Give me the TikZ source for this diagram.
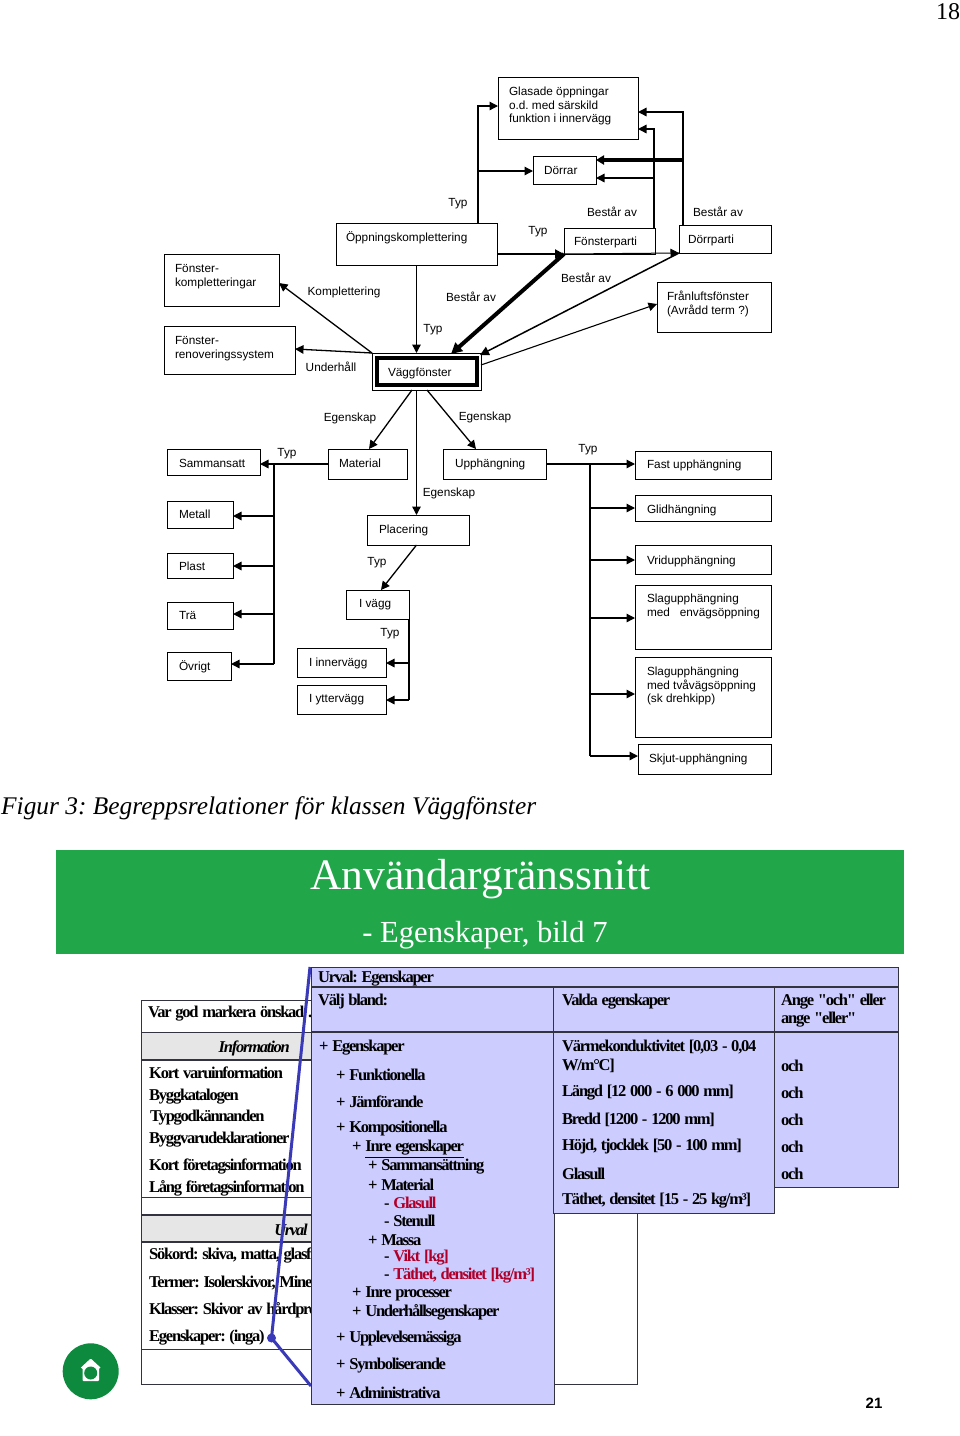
\documentclass[tikz,border=0pt]{standalone}
\usepackage{fontspec}
\setmainfont{Liberation Sans}
\newfontfamily\serf{Liberation Serif}
\newfontfamily\lowf[LetterSpace=-7.5,WordSpace=1.3]{Liberation Serif}
\usetikzlibrary{arrows.meta,calc}
\definecolor{panelblue}{HTML}{CCCCFF}
\definecolor{panelline}{HTML}{33333F}
\definecolor{bandgreen}{HTML}{22A64A}
\definecolor{homegreen}{HTML}{0E8A3E}
\definecolor{linkblue}{HTML}{3A3AB8}
\definecolor{redtxt}{HTML}{B0002A}
\definecolor{greyband}{HTML}{E6E6E6}
\newcounter{tn}
\newlength\bxw \newlength\bxh \newlength\bxt \newlength\bxi
\newcommand\bx[8][]{% [opts] name x0 y0 x1 y1 xtext cy text
  \setlength\bxw{\dimexpr#5pt-#3pt\relax}%
  \setlength\bxh{\dimexpr#6pt-#4pt\relax}%
  \setlength\bxi{\dimexpr#7pt-#3pt\relax}%
  \pgfmathsetlength\bxt{#8-#4-5.1}%
  \BXnext{#1}{#2}{#3}{#4}%
}
\newcommand\BXnext[5]{%
  \node[bxs,#1,anchor=north west] (#2) at (#3,#4) {\parbox[b][\bxh][t]{\bxw}{\vspace*{\bxt}\hspace*{\bxi}\parbox[t]{\dimexpr\bxw-\bxi\relax}{\raggedright\strut #5\strut}}};%
}
\newcommand\lab[3]{\stepcounter{tn}\node[labs,name=lab\thetn] at (#1,#2) {#3};}
\newcommand\lw[4][black]{\stepcounter{tn}\node[lows,text=#1,name=low\thetn] at (#2,#3) {#4};}
\tikzset{
  x=1pt,y=-1pt,
  bxs/.style={draw=black,line width=1pt,inner sep=0pt,outer sep=0pt,fill=white,font=\fontsize{11.8}{13.7}\selectfont},
  labs/.style={inner sep=0pt,yshift=-1pt,font=\fontsize{11.8}{13.7}\selectfont},
  arr/.style={line width=1.3pt,-{Triangle[width=8.5pt,length=8.5pt]}},
  lin/.style={line width=1.3pt},
  lows/.style={anchor=west,inner sep=0pt,yshift=-1pt,font=\fontsize{16.5}{18}\lowf\bfseries\selectfont},
  panel/.style={draw=panelline,line width=1pt,fill=panelblue},
  tbl/.style={draw=panelline,line width=1pt},
}
\begin{document}
\frenchspacing
\begin{tikzpicture}
\useasboundingbox (0,0) rectangle (960,1436);
\fill[white] (0,0) rectangle (960,1436);
\stepcounter{tn}\node[inner sep=0pt,font=\fontsize{24}{26}\serf\selectfont,name=pageno] at (948,12) {18};

% upper diagram: boxes
\bx{glas}{498}{77}{638}{139}{509}{91}{Glasade öppningar\\o.d. med särskild\\funktion i innervägg}
\bx{dorrar}{533}{156}{596}{184}{544}{170}{Dörrar}
\bx{opp}{336}{223}{497}{265}{346}{237}{Öppningskomplettering}
\bx{fparti}{564}{228}{655}{254}{574}{241}{Fönsterparti}
\bx{dparti}{679}{225}{771}{253}{688}{239}{Dörrparti}
\bx{fkompl}{164}{254}{279}{306}{175}{268}{Fönster-\\kompletteringar}
\bx{frenov}{164}{326}{295}{374}{175}{340}{Fönster-\\renoveringssystem}
\bx{fran}{657}{282}{771}{332}{667}{296}{Frånluftsfönster\\(Avrådd term ?)}
\stepcounter{tn}\node[bxs,anchor=north west,minimum width=109pt,minimum height=37pt] (vaggo) at (372,353) {};
\bx[line width=4pt]{vagg}{376.5}{358}{476.5}{385}{388}{372}{Väggfönster}

\bx{samm}{167}{449}{260}{475}{179}{463}{Sammansatt}
\bx{mat}{328}{449}{407}{479}{339}{463}{Material}
\bx{upp}{443}{449}{546}{479}{455}{463}{Upphängning}
\bx{fast}{635}{451}{771}{479}{647}{464}{Fast upphängning}
\bx{glid}{635}{495}{771}{521}{647}{509}{Glidhängning}
\bx{vrid}{635}{545}{771}{574}{647}{560}{Vridupphängning}
\bx{slag1}{635}{585}{771}{649}{647}{598}{Slagupphängning\\med\ \ \ envägsöppning}
\bx{slag2}{635}{657}{771}{737}{647}{671}{Slagupphängning\\med tvåvägsöppning\\(sk drehkipp)}
\bx{skjut}{638}{744}{771}{774}{649}{758}{Skjut-upphängning}
\bx{metall}{167}{501}{233}{528}{179}{514}{Metall}
\bx{plast}{167}{553}{233}{578}{179}{566}{Plast}
\bx{tra}{167}{602}{233}{629}{179}{615}{Trä}
\bx{ovrigt}{167}{652}{231}{680}{179}{666}{Övrigt}
\bx{plac}{367}{515}{469}{545}{379}{529}{Placering}
\bx{ivagg}{346}{590}{409}{619}{359}{603}{I vägg}
\bx{inner}{297}{648}{386}{677}{309}{662}{I innervägg}
\bx{ytter}{297}{685}{386}{714}{309}{698}{I yttervägg}

% routing points
\coordinate (a1) at (478,106);
\coordinate (a2) at (478,171);
\coordinate (b1) at (654,129);
\coordinate (b2) at (654,178);
\coordinate (c1) at (683,112);
\coordinate (c2) at (683,160);
\coordinate (d1) at (564,254);
\coordinate (d2) at (679,253);
\coordinate (k1) at (279,283);
\coordinate (u1) at (295,349);
\coordinate (f1) at (655,304);
\coordinate (f2) at (481,365);
\coordinate (v1) at (451,354);
\coordinate (v2) at (480,355);
\coordinate (m1) at (412,390);
\coordinate (m2) at (369,449);
\coordinate (h1) at (427,390);
\coordinate (h2) at (476,449);
\coordinate (p1) at (381,590);
\coordinate (s0) at (274,464);
\coordinate (s1) at (274,516);
\coordinate (s2) at (274,566);
\coordinate (s3) at (274,614);
\coordinate (s4) at (274,664);
\coordinate (i0) at (409,619);
\coordinate (i1) at (409,663);
\coordinate (i2) at (409,700);
\coordinate (r0) at (590,464);
\coordinate (r1) at (590,508);
\coordinate (r2) at (590,560);
\coordinate (r3) at (590,618);
\coordinate (r4) at (590,694);
\coordinate (r5) at (590,756);

% connectors
\draw[arr] (opp.north -| a1) -- (a1) -- (a1 -| glas.west);
\draw[arr] (a2) -- (a2 -| dorrar.west);
\draw[arr] (fparti.north -| b1) -- (b1) -- (b1 -| glas.east);
\draw[arr] (b2) -- (b2 -| dorrar.east);
\draw[arr] (dparti.north -| c1) -- (c1) -- (c1 -| glas.east);
\draw[line width=3.5pt,-{Triangle[width=9pt,length=8pt]}] (c2) -- (c2 -| dorrar.east);
\draw[line width=2pt,-{Triangle[width=9pt,length=9pt]}] (opp.east |- d1) -- (d1);
\draw[arr,line width=1pt] (d1) -- (d2);
\draw[arr] (opp.south) -- (vaggo.north -| opp.south);
\draw[line width=4pt,-{Triangle[width=11pt,length=11pt]}] (d1) -- (v1);
\draw[line width=1.5pt,-{Triangle[width=9pt,length=9pt]}] (d2) -- (v2);
\draw[arr,line width=1.1pt] (f2) -- (f1 -| fran.west);
\draw[arr] (vaggo.north west) -- (k1);
\draw[arr] (vaggo.north west) -- (u1);
\draw[arr] (m1) -- (m2);
\draw[arr] (h1) -- (h2);
\draw[arr] (vaggo.south -| opp.south) -- (plac.north -| opp.south);
\draw[arr] (mat.west |- s0) -- (s0 -| samm.east);
\draw[lin] (s0) -- (s4);
\draw[arr] (s1) -- (s1 -| metall.east);
\draw[arr] (s2) -- (s2 -| plast.east);
\draw[arr] (s3) -- (s3 -| tra.east);
\draw[arr] (s4) -- (s4 -| ovrigt.east);
\draw[arr] (plac.south -| opp.south) -- (p1);
\draw[lin] (i0) -- (i2);
\draw[arr] (i1) -- (i1 -| inner.east);
\draw[arr] (i2) -- (i2 -| ytter.east);
\draw[arr] (upp.east |- r0) -- (r0 -| fast.west);
\draw[lin] (r0) -- (r5);
\draw[arr] (r1) -- (r1 -| glid.west);
\draw[arr] (r2) -- (r2 -| vrid.west);
\draw[arr] (r3) -- (r3 -| slag1.west);
\draw[arr] (r4) -- (r4 -| slag2.west);
\draw[arr] (r5) -- (r5 -| skjut.west);

% labels
\lab{458}{203}{Typ}
\lab{612}{211}{Består av}
\lab{718}{211}{Består av}
\lab{538}{231}{Typ}
\lab{344}{291}{Komplettering}
\lab{471}{296}{Består av}
\lab{586}{277}{Består av}
\lab{433}{329}{Typ}
\lab{331}{366}{Underhåll}
\lab{350}{417}{Egenskap}
\lab{485}{416}{Egenskap}
\lab{287}{453}{Typ}
\lab{588}{449}{Typ}
\lab{449}{492}{Egenskap}
\lab{377}{562}{Typ}
\lab{390}{633}{Typ}

% caption
\stepcounter{tn}\node[anchor=west,inner sep=0pt,font=\fontsize{25.4}{28}\serf\itshape\selectfont,name=caption] at (1,808.5) {Figur 3: Begreppsrelationer för klassen Väggfönster};

% green band
\fill[bandgreen] (56,850) rectangle (904,954);
\stepcounter{tn}\node[inner sep=0pt,text=white,font=\fontsize{43.5}{46}\serf\selectfont,name=title1] at (480.5,879) {Användargränssnitt};
\stepcounter{tn}\node[inner sep=0pt,text=white,font=\fontsize{30.6}{34}\serf\selectfont,name=title2] at (485,935) {- Egenskaper, bild 7};

% left table
\fill[greyband] (141.5,1032) rectangle (312,1060);
\fill[greyband] (141.5,1215) rectangle (312,1242);
\draw[tbl] (141.5,1000) rectangle (637,1384);
\foreach \yy in {1032,1197,1349}{\draw[tbl] (141.5,\yy) -- (312,\yy);}
\foreach \yy in {1060,1215,1242}{\draw[tbl,line width=1.4pt] (141.5,\yy) -- (312,\yy);}
\lw{148}{1013}{Var god markera önskad .i}
\stepcounter{tn}\node[lows,font=\fontsize{16.5}{18}\lowf\bfseries\itshape\selectfont,anchor=east,name=info] at (290,1047) {Information};
\stepcounter{tn}\node[lows,font=\fontsize{16.5}{18}\lowf\bfseries\itshape\selectfont,anchor=east,name=urval] at (308,1229) {Urval};
\lw{149}{1072}{Kort varuinformation}
\lw{149}{1096}{Byggkatalogen}
\lw{150}{1117}{Typgodkännanden}
\lw{149}{1139}{Byggvarudeklarationer}
\lw{149}{1165}{Kort företagsinformation}
\lw{149}{1187}{Lång företagsinformation}
\lw{149}{1254}{Sökord: skiva, matta, glasf}
\lw{149}{1282}{Termer: Isolerskivor, Mine}
\lw{149}{1309}{Klasser: Skivor av hårdpre}
\lw{149}{1337}{Egenskaper: (inga)}

% link line
\draw[linkblue,line width=3pt] (310,967) -- (271.5,1338) -- (311,1386);
\fill[linkblue] (271.5,1338) circle (4.5);

% home button
\fill[homegreen] (90.7,1371.3) circle (28);
\fill[white,rounded corners=0.8pt] (90.7,1358.5) -- (101,1368) -- (99,1368) -- (99,1381) -- (82.5,1381) -- (82.5,1368) -- (80.4,1368) -- cycle;
\fill[homegreen] (90.7,1373) circle (6.5);

% blue panels
\draw[panel] (311,967) rectangle (898,987);
\draw[panel] (311,987) rectangle (554,1404);
\draw[panel] (774,987) rectangle (898,1187);
\draw[panel] (553,987) rectangle (774,1213);
\draw[panel,line width=1.4pt,fill=none] (311,1032) -- (898,1032);
\draw[panel,line width=1.4pt,fill=none] (311,987) -- (898,987);
\lw{318}{978}{Urval: Egenskaper}
\lw{318}{1001}{Välj bland:}
\lw{562}{1001}{Valda egenskaper}
\lw{781}{1001}{Ange "och" eller}
\lw{781}{1019}{ange "eller"}
\lw{319}{1047}{+ Egenskaper}
\lw{336}{1074}{+ Funktionella}
\lw{336}{1101}{+ Jämförande}
\lw{336}{1128}{+ Kompositionella}
\lw{352}{1148}{+ \underline{Inre egenskaper}}
\lw{368}{1166}{+ Sammansättning}
\lw{368}{1184}{+ Material}
\lw[redtxt]{384}{1202}{\textcolor{black}{-} Glasull}
\lw{384}{1220}{- Stenull}
\lw{368}{1239}{+ Massa}
\lw[redtxt]{384}{1257}{\textcolor{black}{-} Vikt [kg]}
\lw[redtxt]{384}{1275}{\textcolor{black}{-} Täthet, densitet [kg/m³]}
\lw{352}{1293}{+ Inre processer}
\lw{352}{1311}{+ Underhållsegenskaper}
\lw{336}{1338}{+ Upplevelsemässiga}
\lw{336}{1365}{+ Symboliserande}
\lw{336}{1392}{+ Administrativa}
\lw{562}{1046}{Värmekonduktivitet [0,03 - 0,04}
\lw{562}{1065}{W/m°C]}
\lw{562}{1092}{Längd [12 000 - 6 000 mm]}
\lw{562}{1119}{Bredd [1200 - 1200 mm]}
\lw{562}{1146}{Höjd, tjocklek [50 - 100 mm]}
\lw{562}{1173}{Glasull}
\lw{562}{1200}{Täthet, densitet [15 - 25 kg/m³]}
\lw{781}{1065}{och}
\lw{781}{1092}{och}
\lw{781}{1119}{och}
\lw{781}{1146}{och}
\lw{781}{1173}{och}
\stepcounter{tn}\node[inner sep=0pt,font=\fontsize{15}{17}\bfseries\selectfont,name=slideno] at (874,1403) {21};
\end{tikzpicture}
\end{document}
